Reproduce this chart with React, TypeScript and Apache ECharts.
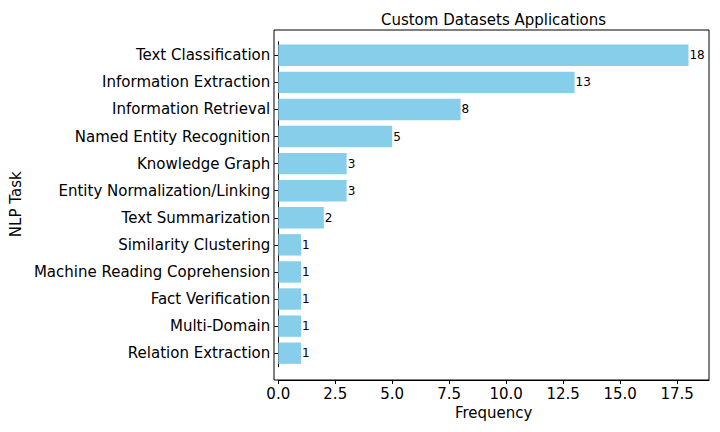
import React, { useEffect, useRef } from "react";
import * as echarts from "echarts";

const categories = [
  "Text Classification",
  "Information Extraction",
  "Information Retrieval",
  "Named Entity Recognition",
  "Knowledge Graph",
  "Entity Normalization/Linking",
  "Text Summarization",
  "Similarity Clustering",
  "Machine Reading Coprehension",
  "Fact Verification",
  "Multi-Domain",
  "Relation Extraction",
];
const frequencies = [18, 13, 8, 5, 3, 3, 2, 1, 1, 1, 1, 1];
const xTicks = [0, 2.5, 5, 7.5, 10, 12.5, 15, 17.5];

const FONT = "DejaVu Sans";

export default function App() {
  const ref = useRef<HTMLDivElement>(null);
  useEffect(() => {
    if (!ref.current) return;
    const chart = echarts.init(ref.current, null, { renderer: "svg" });
    const frameTop = 30;
    const frameBottom = 380;
    const left = 274;
    const right = 709;
    const band = 27.08;
    const gridTop = 55.3 - band / 2;
    const gridBottomPx = 353.2 + band / 2;
    chart.setOption({
      animation: false,
      backgroundColor: "#ffffff",
      title: {
        text: "Custom Datasets Applications",
        left: (left + right) / 2 - 3,
        textAlign: "center",
        top: 7,
        textStyle: { fontFamily: FONT, fontSize: 15, fontWeight: "normal", color: "#000" },
      },
      grid: {
        left: left,
        right: 720 - right,
        top: gridTop,
        bottom: 432 - gridBottomPx,
        containLabel: false,
      },
      xAxis: {
        type: "value",
        min: 0,
        max: 18.9,
        interval: 2.5,
        offset: frameBottom - gridBottomPx,
        name: "Frequency",
        nameLocation: "middle",
        nameGap: 25,
        nameTextStyle: { fontFamily: FONT, fontSize: 15, color: "#000" },
        axisLine: { show: true, lineStyle: { color: "#000", width: 1 } },
        axisTick: { show: true, length: 4, lineStyle: { color: "#000" }, customValues: xTicks },
        axisLabel: {
          fontFamily: FONT,
          fontSize: 15,
          color: "#000",
          margin: 6,
          customValues: xTicks,
          formatter: (v: number) => v.toFixed(1),
        },
        splitLine: { show: false },
      },
      yAxis: {
        type: "category",
        data: categories,
        inverse: true,
        name: "NLP Task",
        nameLocation: "middle",
        nameRotate: 90,
        nameGap: 249,
        nameTextStyle: { fontFamily: FONT, fontSize: 15, color: "#000" },
        axisLine: { show: true, lineStyle: { color: "#000", width: 1 } },
        axisTick: { show: true, length: 4, alignWithLabel: true, lineStyle: { color: "#000" } },
        axisLabel: { fontFamily: FONT, fontSize: 15, color: "#000", margin: 8 },
      },
      graphic: [
        {
          type: "rect",
          shape: { x: left, y: frameTop, width: right - left, height: frameBottom - frameTop },
          style: { fill: "none", stroke: "#000", lineWidth: 1 },
          silent: true,
          z: 10,
        },
      ],
      series: [
        {
          type: "bar",
          data: frequencies,
          barWidth: "79%",
          itemStyle: { color: "#87CEEB" },
          label: {
            show: true,
            position: "right",
            distance: 1,
            fontFamily: FONT,
            fontSize: 12,
            color: "#000",
          },
        },
      ],
    });
    return () => chart.dispose();
  }, []);
  return <div ref={ref} style={{ width: 720, height: 432, margin: -8 }} />;
}
